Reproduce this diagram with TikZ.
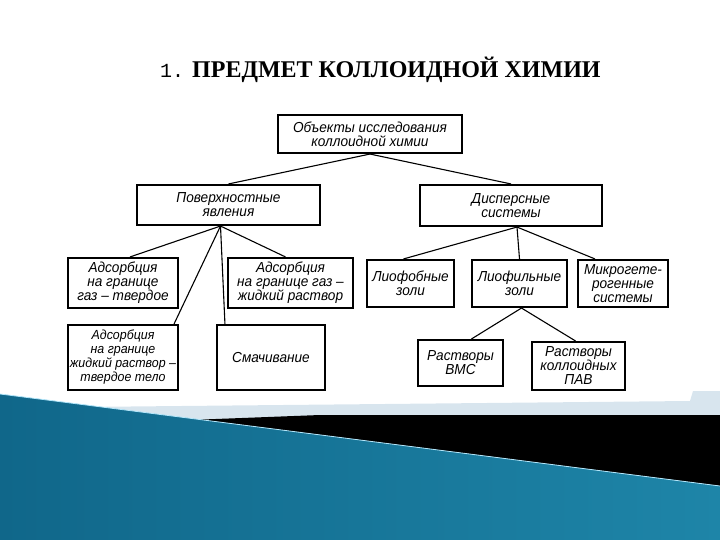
\documentclass[tikz,border=0pt]{standalone}
\usepackage{fontspec}
\setmainfont{Liberation Serif}
\newfontfamily\boxfamily[FakeStretch=0.94]{Liberation Sans}
\newfontfamily\numfamily{Liberation Mono}
\usepackage{xcolor}
\definecolor{slidedark}{HTML}{10678A}
\definecolor{slidelight}{HTML}{40A9CC}
\definecolor{slidemid}{HTML}{1E85A8}
\definecolor{bandgray}{HTML}{D8E5EE}

\tikzset{
  obox/.style={draw, line width=2.1pt, fill=white, align=center, inner sep=0pt,
    font=\boxfamily\itshape\fontsize{14.5}{14}\selectfont},
  link/.style={line width=1.1pt}
}

\begin{document}
\begin{tikzpicture}[x=1pt, y=-1pt]
  \useasboundingbox (0,0) rectangle (720,540);
  % Slide decoration
  \fill[bandgray] (100,406.8) -- (690,401) -- (693,391) -- (720,391) -- (720,416) -- (200,419.6) -- cycle;
  \fill[black] (200,419.6) -- (320,415) -- (720,415) -- (720,486) -- cycle;
  \shade[left color=slidedark, middle color=slidelight, right color=slidemid]
    (0,394) -- (720,486) -- (720,540) -- (0,540) -- cycle;
  \draw[white!70!cyan, line width=0.8pt] (0,394) -- (720,486);
  % Title
  \node[anchor=base west, inner sep=0pt] (title) at (160,78)
    {{\numfamily\fontsize{20}{20}\selectfont 1.}\hspace{8pt}{\bfseries\fontsize{24}{24}\selectfont ПРЕДМЕТ КОЛЛОИДНОЙ ХИМИИ}};
  % Top levels
  \node[obox, minimum width=184pt, minimum height=38pt] (obj) at (370,134) {Объекты исследования\\коллоидной химии};
  \node[obox, minimum width=183pt, minimum height=40pt] (pov) at (228.5,205) {Поверхностные\\явления};
  \node[obox, minimum width=182pt, minimum height=41pt] (disp) at (511,205.5) {Дисперсные\\системы};
  % Surface phenomena
  \node[obox, minimum width=110pt, minimum height=50pt] (adsTv) at (123,283) {Адсорбция\\на границе\\газ – твердое};
  \node[obox, minimum width=125pt, minimum height=50pt] (adsZh) at (290.5,283) {Адсорбция\\на границе газ –\\жидкий раствор};
  \node[obox, minimum width=110pt, minimum height=65pt, font=\boxfamily\itshape\fontsize{13.2}{14}\selectfont]
    (adsZhT) at (123,357.5) {Адсорбция\\на границе\\жидкий раствор –\\твердое тело};
  \node[obox, minimum width=108pt, minimum height=65pt] (smach) at (271,357.5) {Смачивание};
  % Disperse systems
  \node[obox, minimum width=87pt, minimum height=47pt] (liofob) at (410.5,283.5) {Лиофобные\\золи};
  \node[obox, minimum width=95pt, minimum height=47pt] (liofil) at (519.5,283.5) {Лиофильные\\золи};
  \node[obox, minimum width=90pt, minimum height=47pt] (mikro) at (623,283.5) {Микрогете-\\рогенные\\системы};
  \node[obox, minimum width=85pt, minimum height=46pt] (vms) at (460.5,363) {Растворы\\ВМС};
  \node[obox, minimum width=93pt, minimum height=48pt] (pav) at (578.5,366) {Растворы\\коллоидных\\ПАВ};
  % Links
  \draw[link] (obj.south) -- (pov.north);
  \draw[link] (obj.south) -- (disp.north);
  \coordinate (povfork) at ([xshift=-8pt]pov.south);
  \draw[link] (povfork) -- ([xshift=7pt]adsTv.north);
  \draw[link] (povfork) -- ([xshift=-5pt]adsZh.north);
  \draw[link] (povfork) -- ([xshift=-5pt]adsZhT.north east);
  \draw[link] (povfork) -- ([xshift=9pt]smach.north west);
  \coordinate (dispfork) at ([xshift=6pt]disp.south);
  \draw[link] (dispfork) -- ([xshift=-7pt]liofob.north);
  \draw[link] (dispfork) -- (liofil.north);
  \draw[link] (dispfork) -- ([xshift=-28pt]mikro.north);
  \coordinate (liofork) at ([xshift=2pt]liofil.south);
  \draw[link] (liofork) -- ([xshift=11pt]vms.north);
  \draw[link] (liofork) -- ([xshift=-3pt]pav.north);
\end{tikzpicture}
\end{document}
